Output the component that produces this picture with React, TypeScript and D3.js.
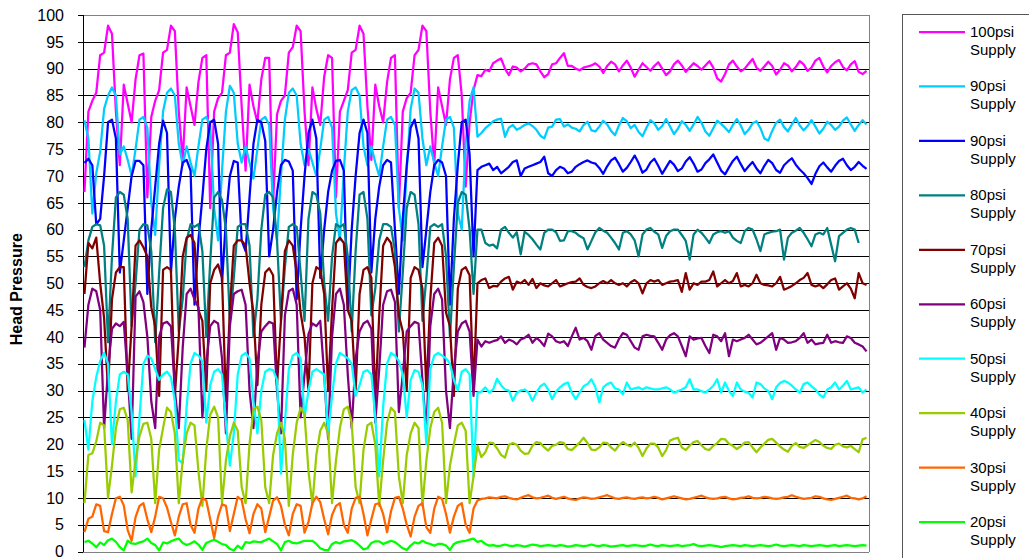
import React from 'react';
import * as d3 from 'd3';

const W = 1029;
const H = 558;

const yTicks: number[] = [0, 5, 10, 15, 20, 25, 30, 35, 40, 45, 50, 55, 60, 65, 70, 75, 80, 85, 90, 95, 100];
const legendLabels: string[] = ['100psi', '90psi', '90psi', '80psi', '70psi', '60psi', '50psi', '40psi', '30psi', '20psi'];
const seriesColors: string[] = ['#FF00FF', '#00CCFF', '#0000FF', '#008080', '#800000', '#800080', '#00FFFF', '#99CC00', '#FF6600', '#00FF00'];

// 100psi
const p100L = [67, 82, 84, 85.5, 92.5, 93, 98, 96.5, 82, 72, 87, 83.5, 80, 88, 92.5, 92.8,
  66, 81, 84, 86, 93, 93.5, 98, 97, 82, 73, 86.5, 83, 79.5, 87.5, 92, 92.5,
  64, 82, 84.5, 85.5, 92.5, 93, 98.3, 96.8, 83, 71, 87, 83, 80, 88, 92, 92,
  65, 81.5, 84, 85, 93, 94, 98, 97, 82, 72, 86.5, 82.5, 79.5, 88.5, 92.5, 92,
  66, 82, 84, 86, 93, 93.5, 98, 96.5, 83, 73, 87, 83, 80, 87.5, 92, 92.5,
  64, 82, 84.5, 85.5, 92.5, 93.5, 98, 97, 82, 72, 86.5, 83, 79.5, 88, 92, 92.5,
  85, 68, 80, 86];
const p100R = [88.8, 88.6, 89.8, 89.5, 91, 91.5, 91.9, 90, 88.8, 90.4,
  90.2, 89.5, 90, 90.8, 91, 90.8, 89.5, 88.4, 89, 90.8,
  91, 92, 92.9, 90.5, 90.5, 90, 89.7, 90.2, 90.4, 90.6,
  91, 90.4, 89.2, 90.5, 91.3, 90.8, 89.5, 90.6, 91.5, 90.2,
  88.5, 89.8, 91, 90.3, 89.6, 90.5, 91.2, 90, 88.8, 89.5,
  90.8, 91.5, 90.6, 89.4, 90.2, 91, 90.5, 89.8, 90.6, 91.4,
  90.2, 88.2, 87.6, 89, 90.8, 91.5, 90.4, 89.5, 90, 90.9,
  91.8, 90.2, 89.6, 90.4, 91.3, 90.5, 88.9, 89.8, 91, 90.6,
  89.5, 90.3, 91.4, 90.8, 89.6, 90.2, 91.5, 92, 90.4, 89.3,
  90.5, 91.2, 91.6, 90.3, 89.7, 90.8, 91.4, 89.4, 89, 89.6];

// 90psi (light blue)
const p90aL = [80.4, 77, 63, 70.5, 74.5, 82.5, 85, 86.5, 85, 74, 75.5, 73, 70, 75, 80.5, 81,
  79, 65, 59, 72, 82, 85.5, 86.3, 85, 76, 72, 75.5, 72.5, 70, 75.5, 80.5, 81,
  79.5, 64, 58, 71, 82, 86.8, 85.5, 76, 72.5, 75.5, 72.5, 69.5, 75, 80.5, 81, 79.5,
  64, 58, 70, 80.5, 85.5, 86.3, 85, 76, 72, 75, 72.5, 70, 75, 80.5, 81, 79,
  63, 58, 71, 82, 86, 86.5, 85, 75.5, 72, 75.5, 72.5, 70, 75.5, 80.5, 81, 79.5,
  64, 58, 71, 82.5, 86.3, 85.5, 77, 72, 75.5, 72.5, 70, 75.5, 80.5, 81, 79, 63,
  60, 76, 84, 86.5];
const p90aR = [77.3, 78, 78.9, 79.5, 80.2, 80.5, 80.7, 77.3, 79, 79.5,
  78.6, 79, 79.5, 79.8, 79.3, 78.6, 77.5, 77, 79, 79.2,
  80.5, 80.6, 79.2, 79.6, 79, 78.8, 78.3, 79.5, 80.1, 78.5,
  78.3, 79.2, 80.3, 79.6, 78.4, 77.6, 79.4, 80.8, 80.2, 78.9,
  79.5, 78.2, 77.4, 79, 80.4, 79.8, 78.6, 79.3, 80.6, 79.2,
  77.8, 78.8, 80.2, 79.5, 78.4, 79.6, 81, 79.9, 78.3, 77.5,
  78.9, 80.3, 79.7, 79, 78.2, 79.5, 80.6, 79.4, 77.8, 78.6,
  79.8, 80.2, 78.9, 77, 76.6, 78.4, 79.9, 80.5, 79.1, 78.3,
  79.6, 80.8, 79.4, 78.5, 79.3, 80.4, 79.2, 77.9, 78.8, 80.1,
  79.5, 78.6, 79.2, 80.3, 80.9, 79.6, 78.4, 79.5, 80.4, 79.6];

// 90psi (blue)
const p90bL = [72.4, 73.2, 72, 61, 62, 70, 80, 80.5, 77, 52, 58, 64, 70, 72.8, 72.8, 72,
  48, 60, 68, 76, 80.3, 78, 52, 62, 68, 72.5, 73, 71, 46, 58, 66, 75,
  80, 80.5, 76, 50, 62, 70, 72.8, 72.5, 58, 56, 66, 76, 80.5, 80, 76.5, 55,
  60, 67, 72, 73, 72.7, 71, 47, 60, 70, 78, 80.5, 77, 51, 60, 67, 71,
  72.8, 73, 71, 45, 60, 70, 78, 80.5, 78, 52, 62, 68, 72, 73, 72.5, 60,
  48, 62, 72, 79, 80.5, 77, 53, 60, 67, 72, 73, 72.5, 70, 46, 62, 72,
  80, 80.5, 74, 55];
const p90bR = [71.1, 71.7, 72, 72.3, 71.1, 71.7, 70.5, 71.1, 71.7, 72.6,
  72.9, 70, 71.4, 71.7, 72, 72.3, 72.6, 73.6, 70.5, 70,
  71.1, 71.7, 71.4, 70.5, 70.8, 71.7, 72.2, 72.6, 72.9, 72.5,
  72.3, 71.5, 70.4, 71.8, 72.9, 73.4, 72.2, 70.8, 71.5, 72.6,
  73.8, 72.4, 70.6, 71.2, 72.5, 73.2, 71.9, 70.4, 71.6, 72.8,
  72.1, 70.9, 71.4, 72.7, 73.5, 72.3, 70.8, 71.2, 72.4, 73.1,
  74, 72.5, 71, 70.3, 71.6, 72.8, 73.6, 72.2, 70.9, 71.8,
  72.6, 71.4, 70.5, 71.9, 73, 72.4, 71.1, 70.6, 72, 72.7,
  73.3, 72.1, 71.2, 70.5, 69.6, 68.5, 70.4, 71.8, 72.5, 71.6,
  70.8, 71.9, 72.8, 73.2, 72, 71.1, 71.7, 72.6, 71.9, 71.3];

// 80psi
const p80L = [53, 58, 60.5, 61, 60.8, 57, 39, 55, 66, 67, 66.5, 62, 42, 50, 60, 61,
  60.8, 56, 39, 52, 64, 67.5, 67, 60, 41, 47, 58, 61, 60.5, 61, 56, 40,
  54, 66, 67, 65.5, 60, 43, 51, 60.5, 61, 61, 57, 40, 47, 60, 66.5, 67,
  66, 58, 43, 53, 60.5, 61, 60.5, 52, 43, 62, 67, 66.5, 63, 50, 43, 55,
  61, 60.5, 61, 55, 41, 56, 66.5, 67, 62, 44, 49, 58, 61, 61, 60.5, 56,
  41, 52, 64, 67, 66.5, 61, 43, 51, 60.5, 61, 60.5, 61, 55, 40, 53, 65,
  67, 66.5, 60, 48];
const p80R = [60, 60, 57.5, 57, 57.2, 56.5, 60, 60.5, 59.4, 58.5,
  59.5, 55.4, 59.6, 59, 58.2, 57.2, 56.3, 59.4, 60, 60,
  59.5, 57.9, 58, 59.7, 59.7, 59.4, 58.8, 58.4, 56.3, 57.9,
  59.5, 60.3, 59.8, 59.4, 58.5, 57.5, 56.3, 59.4, 59.7, 59.1,
  58, 55, 59.1, 60, 60.3, 59.6, 59.1, 56.6, 58.8, 59.7,
  60, 60, 59, 57.9, 54.4, 59.1, 60, 59.4, 58.5, 57.5,
  59.1, 59.5, 59.7, 59.4, 59.7, 58.5, 57.9, 57.5, 59.7, 60.3,
  60, 58.2, 56, 59.1, 59.4, 59.6, 59.7, 60, 54.4, 58.5,
  59.4, 59.8, 60.3, 59.4, 58.2, 56.9, 59.1, 59.4, 59.1, 60.3,
  57.2, 54.1, 58.8, 59.4, 60, 60.3, 60, 57.5];

// 70psi
const p70L = [48, 57.5, 56.5, 58.5, 50, 43.5, 30, 47, 52, 53, 53, 30, 42, 57, 58, 56.7,
  55, 45.5, 42, 29, 52.5, 53, 52.5, 29, 40, 55, 58.5, 59, 57.5, 45, 43, 30,
  50, 52.5, 53.5, 51, 28, 45, 57, 58, 58, 57, 50, 44.5, 31, 46, 52, 52.8,
  51.5, 31, 43, 56, 58, 57, 52, 44.5, 40, 30, 50, 53, 52.5, 48, 30, 45,
  57.5, 58.5, 57.5, 45, 43, 30, 48, 52.5, 53, 51, 28, 44, 57, 58.5, 57.5, 53,
  44, 41, 30, 51, 53, 52.5, 49, 30, 47, 57.5, 58.5, 57, 44.5, 42, 29, 49,
  52.5, 53, 51.5, 30];
const p70R = [50, 50.6, 50.9, 49.1, 49.5, 49.4, 50.3, 50.9, 51.2, 48.8,
  50.3, 50, 50.6, 49.7, 50.8, 49.1, 50, 49.6, 49.4, 50,
  50.6, 49.4, 49.7, 50, 50.2, 50.3, 50.9, 49.7, 49.3, 49.1,
  49.4, 50, 50.4, 50, 50.6, 50, 49.7, 50, 49.4, 50.2,
  50.6, 50, 48.1, 50, 50.6, 50.3, 50.6, 49.7, 50, 50.3,
  50.4, 50.6, 48.4, 51.9, 48.8, 50, 49.7, 50.3, 50.3, 50.6,
  52.2, 49.4, 50, 50.6, 50, 50.4, 51.9, 49.4, 49.7, 49.4,
  50, 51.6, 50, 49.7, 49.6, 49.4, 50, 51.2, 48.8, 49.1,
  49.5, 50, 50.6, 51, 51.9, 49.7, 49.4, 49.7, 49.1, 49.8,
  50.6, 50.9, 48.8, 49.4, 50, 49, 47.2, 51.9, 50, 49.7];

// 60psi
const p60L = [38, 46, 49, 48.5, 45, 23, 34, 41.5, 42.5, 42, 42.8, 33, 21, 47.5, 48.5, 46.5,
  40, 28, 23, 40, 42.5, 42.8, 42, 30, 23, 38, 48, 49, 47, 45.5, 25, 35,
  42, 43, 42.5, 36, 22, 42, 48, 48.5, 48.8, 46, 30, 23, 35, 41, 42, 42.8,
  42.5, 30, 22, 44, 48.5, 49, 46, 25, 33, 40.5, 42.5, 42, 43, 33, 21, 40,
  48, 49, 46, 33, 23, 36, 41, 42.5, 43, 41.5, 24, 34, 46, 48.5, 48.8, 46.5,
  26, 33, 41, 42, 42.8, 42.5, 32, 22, 42, 48, 49, 47, 30, 23, 34, 41,
  42.5, 43, 41, 29];
const p60R = [39.5, 38.2, 39.2, 38.9, 39.2, 39.4, 40.1, 38.9, 39.5, 39.2,
  38.6, 39.5, 39.8, 40.4, 38.9, 39.8, 39.2, 38.3, 40.6, 40.1,
  39.2, 38.9, 39.2, 38.3, 40.1, 41.7, 39.5, 39.8, 39.2, 37.6,
  40.2, 40.7, 39.5, 38.9, 38.3, 38, 39.6, 40.7, 40.4, 39.2,
  38, 37.6, 40.1, 40.4, 40.2, 40.1, 38.9, 37.6, 39.5, 40.3,
  40.7, 40.1, 38.3, 36.4, 40.1, 39.5, 39.7, 39.8, 38.3, 37,
  40.4, 40.1, 39.2, 40.7, 36.4, 39.5, 39.2, 39.5, 39.8, 40.4,
  39.5, 38.6, 38.9, 39.5, 40.1, 40.7, 37.6, 39.8, 39.5, 38.9,
  39, 39.2, 39.8, 40.7, 38.9, 39.5, 38.6, 38.8, 38.9, 40.4,
  38.9, 39.2, 39, 38.9, 40.1, 39.8, 38.9, 38.6, 38.2, 37.3];

// 50psi
const p50L = [24.5, 19, 28, 32.5, 35.5, 37, 35, 20, 28, 33, 33.5, 33, 26, 14, 25, 35,
  36.5, 36, 34, 32, 33, 33.5, 32.5, 28, 17, 16.5, 27, 35, 37, 36.5, 35.5, 24,
  31, 33.5, 34, 33, 24, 16, 22, 33, 36.5, 37, 36, 28, 22, 30, 33.5, 34,
  33.8, 32, 14.5, 24, 34, 36.5, 37, 36, 25, 30, 33.5, 34, 33.5, 33, 22, 29,
  35, 37, 36.5, 36, 35, 29, 31, 33.5, 33.8, 33, 25, 14, 27, 35, 37, 36.5,
  35.5, 33, 25, 32, 33.8, 33.5, 31, 20, 34, 36.5, 37, 36.5, 36, 35, 32, 30,
  33.5, 34, 33, 14];
const p50R = [29.6, 29.8, 30.6, 29.6, 30.2, 32.2, 31, 30.2, 30, 28.1,
  29.6, 30, 30.2, 29.6, 28.1, 29.6, 30.8, 31.3, 30.2, 28.4,
  29.8, 30.6, 31.2, 31.5, 29.6, 28.4, 29.6, 30.8, 31.2, 32.1,
  30.6, 27.8, 30.6, 31.2, 31.5, 30.4, 30.2, 29.3, 31.5, 30.2,
  30.4, 30.6, 30.2, 30.6, 30.4, 30.2, 30.2, 30.4, 30.6, 30.2,
  29.6, 29.9, 30.2, 30.6, 32.1, 30.2, 30.2, 29.9, 29.6, 30.2,
  30.9, 32.1, 29.6, 31.5, 29.9, 29, 31.5, 30.2, 29.8, 29.6,
  28.7, 31.5, 31.2, 30.4, 29.9, 28.4, 30.6, 31.4, 31.8, 31.5,
  30.9, 30.2, 29.6, 31.2, 31.5, 30.8, 30.2, 29.3, 28.7, 30.2,
  30.6, 31.5, 30.2, 30.9, 31.8, 30.2, 30.4, 30.6, 29.6, 30.2];

// 40psi
const p40L = [9, 18, 18.3, 20.5, 24, 23.5, 10, 16, 23, 26.5, 26.8, 24.5, 11, 17, 21.5, 23.8,
  24, 21, 9, 19, 23, 26.8, 26, 22, 9, 17, 22, 24, 23.5, 15, 8.5, 19,
  25.5, 27, 25, 9, 17, 21.5, 24, 22.5, 12, 9, 20, 26.5, 27, 24.5, 12, 9,
  18, 22, 24, 21, 8.5, 18, 24, 26.8, 25.5, 15, 8.8, 18, 22.5, 24, 22, 9,
  17, 23, 26.5, 27, 24, 12, 9, 19, 23.5, 24, 20, 8.5, 17, 24, 26.8, 26,
  14, 9, 18, 22, 24, 23, 8.5, 17, 23, 26, 26.8, 24, 9, 16, 20, 23.5,
  24, 22.5, 9, 14];
const p40R = [19.7, 17.6, 18.5, 20.3, 20.2, 19.2, 18, 17.5, 19.9, 20.2,
  19.9, 18.8, 18.2, 18.3, 19.7, 20.4, 20.2, 19.4, 18.8, 19.7,
  19.9, 20.4, 20.2, 19.1, 18.9, 19.6, 20.3, 21.2, 20.2, 19,
  18.9, 19.4, 20.3, 20.2, 19.4, 18.8, 19.8, 20.4, 19.9, 19.6,
  20.3, 19.3, 17.8, 19.2, 20.1, 20.1, 19.4, 17.8, 18.9, 20.7,
  21, 21.2, 19.4, 18.9, 19.7, 20.4, 20.6, 19.8, 19.1, 18.9,
  19.7, 20.2, 21, 20.9, 20.1, 19.7, 19.1, 19.6, 20.3, 20.4,
  19.4, 18.5, 19.4, 20.1, 20.8, 21, 20.3, 19.6, 19, 18.6,
  19.7, 20.2, 19.5, 19.3, 19.8, 20.3, 20.8, 20.4, 19.7, 19.3,
  19.1, 19.9, 20.1, 19.6, 19.4, 19.7, 19.1, 18.5, 20.9, 21.2];

// 30psi
const p30L = [3.6, 6.1, 6.5, 8.8, 8.5, 3.8, 3.6, 7, 9.9, 10.2, 8.6, 4, 2, 6.4, 8.5, 9,
  6, 3.6, 6.5, 10.2, 9.9, 8.2, 5.5, 3, 6.5, 8.8, 9, 5, 3.5, 8, 10, 9.5,
  6, 2.5, 6.5, 8.8, 8.5, 3.8, 7, 10.2, 9.6, 6, 3.4, 7, 8.8, 8, 3.6, 6.5,
  9.5, 10.1, 8.5, 5, 3, 7, 8.8, 8.5, 3.5, 5.5, 9, 10.2, 9.2, 6, 3.2, 6.8,
  8.5, 9, 5, 3.5, 8, 10, 10.2, 7, 3, 6, 8.8, 9, 7, 3.6, 7.5, 10,
  10.2, 8, 5, 2.8, 6.5, 8.5, 9, 4.5, 3.5, 8, 10.2, 9.8, 7, 3.5, 6.5, 8.5,
  9, 5, 3.5, 8];
const p30R = [9.5, 9.8, 9.9, 10.1, 10, 9.9, 10.2, 10.3, 10, 9.8,
  9.7, 10, 10.3, 10.5, 10.1, 9.9, 10, 10.2, 10.4, 10,
  9.8, 10, 10.2, 9.9, 9.7, 9.6, 9.9, 10.1, 10, 9.8,
  9.9, 10.1, 10.3, 10.5, 10.2, 9.9, 9.8, 10, 10.1, 9.9,
  9.8, 10, 10.1, 9.9, 10, 10.2, 10, 9.7, 9.9, 10.1,
  10.3, 10.1, 9.9, 9.7, 9.8, 10, 10.2, 10.4, 10.1, 9.9,
  9.8, 9.9, 10.1, 10.2, 9.9, 9.7, 9.8, 10, 10.1, 10.3,
  10, 9.9, 10, 10.2, 10.1, 9.9, 9.8, 9.9, 10.1, 10.2,
  10.5, 10.2, 10, 9.8, 9.9, 10, 10.3, 10.2, 9.9, 9.7,
  9.6, 9.8, 10, 10.2, 10.4, 10, 9.9, 9.7, 9.9, 10.3];

// 20psi
const p20L = [1.75, 2, 1.5, 0.8, 1.7, 1.2, 2.1, 2.4, 1.8, 0.8, 0.2, 2, 1.5, 1.4, 1.7, 1.9,
  2.4, 1.6, 1.2, 0.2, 1.7, 1.5, 1.9, 2.2, 2.4, 1.6, 1.2, 1.5, 1.9, 1.3, 0.3, 1.6,
  1.9, 2.2, 1.8, 1.4, 1.2, 0.5, 0.2, 1.1, 0.5, 1.75, 1.6, 1.9, 1.8, 1.75, 2.1, 2.4,
  1.9, 1.4, 0.2, 1.75, 2, 1.6, 1.5, 1.75, 2, 2, 2, 1.4, 0.6, 0.3, 0.2, 1.4,
  1.75, 1.5, 1.9, 2, 2.1, 1.75, 1.1, 0.4, 0.6, 1.6, 1.9, 1.9, 1.4, 1.7, 2, 1.75,
  1.2, 0.6, 0.3, 1.1, 1.7, 1.5, 2, 1.6, 1.4, 1.1, 1.4, 1.4, 1.1, 0.3, 1.4, 1.75,
  1.9, 2, 2.2, 2.4];
const p20R = [1.8, 2, 1.4, 1.1, 1.2, 1, 1.1, 1.3, 1.1, 1,
  1.2, 1.1, 0.9, 1.1, 1.3, 1.2, 1, 1.1, 1.2, 1.1,
  1, 1.2, 1.1, 0.9, 1, 1.2, 1.1, 1, 1.1, 1.3,
  1.1, 1, 1.2, 1.1, 0.9, 1, 1.1, 1.2, 1, 1.1,
  1.2, 1.1, 1, 1.1, 1.3, 1.1, 1, 1.2, 1.1, 1,
  1.1, 1.2, 1, 1.1, 1.2, 1.4, 1.1, 1, 1.1, 1.2,
  1.1, 1, 0.8, 1, 1.1, 1.2, 1.1, 1, 1.2, 1.1,
  1, 1.1, 1.2, 1.1, 1, 1.1, 1.3, 1.1, 1, 1.1,
  1.2, 1.1, 1, 1.2, 1.1, 1, 1.1, 1.2, 1.1, 1,
  1.1, 1.2, 1, 1.1, 1.2, 1.1, 1, 1.1, 1.2, 1.1];

const leftParts = [p100L, p90aL, p90bL, p80L, p70L, p60L, p50L, p40L, p30L, p20L];
const rightParts = [p100R, p90aR, p90bR, p80R, p70R, p60R, p50R, p40R, p30R, p20R];

const N_LEFT = 100;
const N_TOTAL = 200;

export default function App() {
  const plotL = 82.5;
  const plotR = 868.5;
  const plotT = 15;
  const plotB = 551.5;

  const x = d3.scaleLinear().domain([0, N_TOTAL]).range([plotL, plotR]);
  const y = d3.scaleLinear().domain([0, 100]).range([plotB, plotT]);

  const line = d3
    .line<[number, number]>()
    .x((d) => x(d[0] + 0.5))
    .y((d) => y(d[1]));

  const seriesPoints = leftParts.map((L, s) => {
    const pts: [number, number][] = [];
    L.forEach((v, i) => pts.push([i, v]));
    rightParts[s].forEach((v, j) => pts.push([N_LEFT + j, v]));
    return pts;
  });

  const crisp = (v: number) => Math.round(v) + 0.5;

  const legendX = 902.5;
  const legendY = 14.5;
  const entryY0 = 32;
  const entryStep = 54.45;

  return (
    <svg
      width={W}
      height={H}
      style={{ position: 'absolute', left: 0, top: 0, background: '#ffffff' }}
      fontFamily="'Liberation Sans', Arial, sans-serif"
    >
      <rect x={0} y={0} width={W} height={H} fill="#ffffff" />
      {yTicks.filter((t) => t > 0 && t < 100).map((t) => (
        <line key={'g' + t} x1={plotL} x2={plotR} y1={crisp(y(t))} y2={crisp(y(t))} stroke="#000" strokeWidth={1} shapeRendering="crispEdges" />
      ))}
      <line x1={plotL} x2={plotR} y1={crisp(y(100))} y2={crisp(y(100))} stroke="#808080" strokeWidth={1.5} shapeRendering="crispEdges" />
      <line x1={crisp(plotR)} x2={crisp(plotR)} y1={y(100)} y2={y(0)} stroke="#808080" strokeWidth={1.5} shapeRendering="crispEdges" />
      <line x1={plotL} x2={plotR} y1={crisp(y(0))} y2={crisp(y(0))} stroke="#808080" strokeWidth={1.5} shapeRendering="crispEdges" />
      <line x1={crisp(plotL)} x2={crisp(plotL)} y1={y(100)} y2={y(0)} stroke="#000" strokeWidth={1} shapeRendering="crispEdges" />
      {yTicks.map((t) => (
        <g key={'t' + t}>
          <line x1={plotL - 5} x2={plotL} y1={crisp(y(t))} y2={crisp(y(t))} stroke="#000" strokeWidth={1} shapeRendering="crispEdges" />
          <text x={64} y={y(t)} dy="0.36em" textAnchor="end" fontSize={16} fill="#000">
            {t}
          </text>
        </g>
      ))}
      <text transform={`translate(22,${(plotT + plotB) / 2 + 6}) rotate(-90)`} textAnchor="middle" fontSize={16} fontWeight="bold" fill="#000">
        Head Pressure
      </text>
      {seriesPoints.map((pts, s) => (
        <path key={'s' + s} d={line(pts) || ''} fill="none" stroke={seriesColors[s]} strokeWidth={2.25} strokeLinejoin="round" />
      ))}
      <rect x={legendX} y={legendY} width={200} height={600} fill="#fff" stroke="#555" strokeWidth={1} />
      {legendLabels.map((lab, k) => {
        const cy = entryY0 + entryStep * k;
        return (
          <g key={'l' + k}>
            <line x1={919} x2={965} y1={cy} y2={cy} stroke={seriesColors[k]} strokeWidth={2.25} />
            <text x={970} y={cy + 5} fontSize={15} fill="#000">
              {lab}
            </text>
            <text x={970} y={cy + 23} fontSize={15} fill="#000">
              Supply
            </text>
          </g>
        );
      })}
    </svg>
  );
}
